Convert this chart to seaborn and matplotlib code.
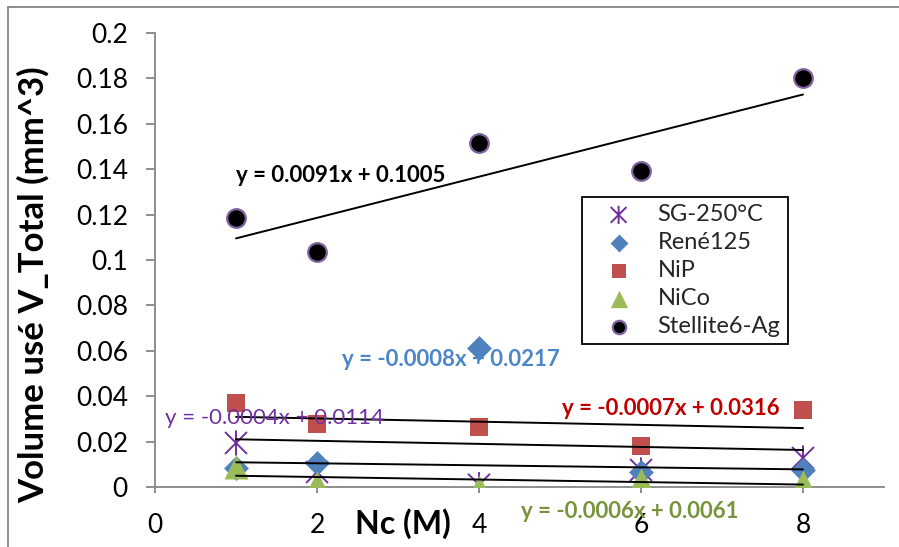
import numpy as np
import pandas as pd
import matplotlib
matplotlib.use("Agg")
import matplotlib.pyplot as plt
from matplotlib.path import Path
from matplotlib.lines import Line2D
import seaborn as sns

# ---- data ----
nc = [1, 2, 4, 6, 8]
sg250 = [0.0194, 0.0066, 0.0010, 0.0075, 0.0128]
rene125 = [0.0084, 0.0106, 0.0612, 0.0066, 0.0075]
nip = [0.0370, 0.0278, 0.0264, 0.0180, 0.0340]
nico = [0.0088, 0.0017, 0.0002, 0.0030, 0.0022]
stellite = [0.1185, 0.1035, 0.1515, 0.1390, 0.1800]

series_names = ["SG-250°C", "René125", "NiP", "NiCo", "Stellite6-Ag"]
equations = ["y = -0.0004x + 0.0114", "y = -0.0008x + 0.0217",
             "y = -0.0007x + 0.0316", "y = -0.0006x + 0.0061",
             "y = 0.0091x + 0.1005"]
x_ticks = [0, 2, 4, 6, 8]
y_ticks = [0, 0.02, 0.04, 0.06, 0.08, 0.1, 0.12, 0.14, 0.16, 0.18, 0.2]
y_tick_labels = ["0", "0.02", "0.04", "0.06", "0.08", "0.1", "0.12",
                 "0.14", "0.16", "0.18", "0.2"]
x_label = "Nc (M)"
y_label = "Volume usé V_Total (mm^3)"

sns.set_theme(style="white")
plt.rcParams["font.family"] = ["Lato", "DejaVu Sans"]

fig = plt.figure(figsize=(8.99, 5.47), dpi=100)
W, H = 899, 547
ax = fig.add_axes([155 / W, 1 - 487 / H, (884 - 155) / W, (487 - 33) / H])

# star marker (X + vertical bar)
star = Path([(-1, -1), (1, 1), (-1, 1), (1, -1), (0, -1.15), (0, 1.15)],
            [Path.MOVETO, Path.LINETO, Path.MOVETO, Path.LINETO,
             Path.MOVETO, Path.LINETO])

styles = {
    "SG-250°C": dict(marker=star, color="#7030A0", s=330, edgecolor="#7030A0",
                     linewidth=1.4, facecolor="none"),
    "René125": dict(marker="D", color="#4F81BD", s=160, edgecolor="#4F81BD", linewidth=0),
    "NiP": dict(marker="s", color="#C0504D", s=185, edgecolor="#C0504D", linewidth=0),
    "NiCo": dict(marker="^", color="#9BBB59", s=300, edgecolor="#9BBB59", linewidth=0),
    "Stellite6-Ag": dict(marker="o", color="black", s=180, edgecolor="#8064A2", linewidth=1.6),
}

data = {"SG-250°C": sg250, "René125": rene125, "NiP": nip, "NiCo": nico,
        "Stellite6-Ag": stellite}

for name in series_names:
    df = pd.DataFrame({"Nc": nc, "V": data[name]})
    sns.scatterplot(data=df, x="Nc", y="V", ax=ax, label=name, zorder=3,
                    **styles[name])

for name in series_names:
    df = pd.DataFrame({"Nc": nc, "V": data[name]})
    sns.regplot(data=df, x="Nc", y="V", ax=ax, scatter=False, ci=None,
                truncate=True, line_kws=dict(color="black", lw=1.4, zorder=4),
                label="_nolegend_")

# equation labels
eq_style = {
    "SG-250°C": dict(x=0.12, y=0.0304, color="#7030A0", weight="normal"),
    "René125": dict(x=2.31, y=0.0560, color="#4A86C8", weight="bold"),
    "NiP": dict(x=5.02, y=0.0348, color="#C00000", weight="bold"),
    "NiCo": dict(x=4.52, y=-0.0110, color="#77933C", weight="bold"),
    "Stellite6-Ag": dict(x=1.0, y=0.1374, color="black", weight="bold"),
}
for name, eq in zip(series_names, equations):
    st = eq_style[name]
    ax.text(st["x"], st["y"], eq, color=st["color"], fontweight=st["weight"],
            fontsize=16, ha="left", va="center", zorder=5, clip_on=False)

ax.set_xlim(0, 9)
ax.set_ylim(0, 0.2)
ax.set_xticks(x_ticks)
ax.set_xticklabels([str(t) for t in x_ticks])
ax.set_yticks(y_ticks)
ax.set_yticklabels(y_tick_labels)
ax.tick_params(axis="both", labelsize=19, colors="#868686", labelcolor="black",
               direction="out", width=1.3)
ax.tick_params(axis="y", length=6.5, pad=13)
ax.tick_params(axis="x", length=4, pad=15)
ax.xaxis.set_ticks_position("bottom")
ax.yaxis.set_ticks_position("left")
ax.grid(False)

for sp in ["top", "right"]:
    ax.spines[sp].set_visible(False)
for sp in ["left", "bottom"]:
    ax.spines[sp].set_color("#868686")
    ax.spines[sp].set_linewidth(1.3)

ax.set_xlabel(x_label, fontsize=23, fontweight="bold", color="black")
ax.xaxis.set_label_coords((403 - 155) / 729, -(524 - 487) / 454)
ax.xaxis.label.set_va("center")
ax.set_ylabel(y_label, fontsize=25, fontweight="bold", color="black")
ax.yaxis.set_label_coords(-(155 - 33) / 729, (487 - 285) / 454)
ax.yaxis.label.set_va("center")

leg = ax.legend(loc="upper left", bbox_to_anchor=((582 - 155) / 729, (487 - 197) / 454),
                borderaxespad=0, frameon=True, fancybox=False, fontsize=17,
                edgecolor="black", framealpha=1, handletextpad=0.4,
                labelspacing=0.3, borderpad=0.3, markerscale=0.72,
                handlelength=2.5)
leg.get_frame().set_linewidth(1.3)

# chart-area border (left and top edges visible)
fig.add_artist(Line2D([8 / W, 8 / W], [0, 1 - 7 / H], color="#868686", lw=1.3))
fig.add_artist(Line2D([8 / W, 1], [1 - 7 / H, 1 - 7 / H], color="#868686", lw=1.3))

fig.savefig("out.png", dpi=100, facecolor="white")
